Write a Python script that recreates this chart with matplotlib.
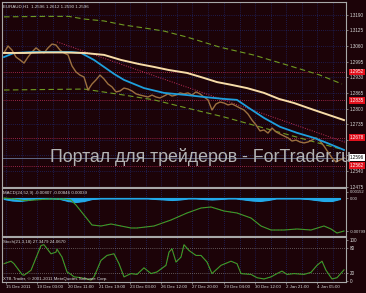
import numpy as np
import matplotlib.pyplot as plt
import matplotlib as mpl
from matplotlib import transforms

# ========================= Style ========================= #
mpl.rcParams.update({
    'font.family': ['Liberation Sans', 'DejaVu Sans'],
    'axes.linewidth': 0.8,
})

fond = '#1c0308'          # fond bordeaux tres sombre
cadre = '#a8a8a8'
texte = '#d8d8d8'
grille = '#22348a'

# ========================= Donnees ========================= #

# Cours EURAUD H1 (cloture, un point toutes les 4 barres environ)
x_prix = list(range(0, 344, 4))
prix = [1.3031, 1.3060, 1.3043, 1.3014, 1.3002, 1.2989, 1.3014, 1.3035, 1.3052, 1.3039,
        1.3031, 1.3052, 1.3068, 1.3064, 1.3043, 1.3031, 1.3023, 1.2977, 1.2952, 1.2939,
        1.2931, 1.2877, 1.2902, 1.2919, 1.2939, 1.2923, 1.2902, 1.2890, 1.2869, 1.2873,
        1.2885, 1.2881, 1.2873, 1.2861, 1.2856, 1.2852, 1.2848, 1.2856, 1.2848, 1.2844,
        1.2852, 1.2861, 1.2852, 1.2856, 1.2865, 1.2861, 1.2865, 1.2856, 1.2869, 1.2861,
        1.2848, 1.2836, 1.2794, 1.2819, 1.2827, 1.2823, 1.2815, 1.2819, 1.2811, 1.2802,
        1.2794, 1.2777, 1.2752, 1.2732, 1.2707, 1.2711, 1.2698, 1.2719, 1.2703, 1.2694,
        1.2686, 1.2678, 1.2665, 1.2669, 1.2661, 1.2657, 1.2661, 1.2669, 1.2678, 1.2665,
        1.2644, 1.2619, 1.2595, 1.2578, 1.2586, 1.2595]

# Moyenne mobile lente (creme)
x_ma_lente = [0, 20, 40, 60, 80, 100, 117, 135, 150, 165, 183, 200, 213, 228, 243, 260, 275, 290, 310, 325, 340]
ma_lente = [1.3031, 1.3031, 1.3033, 1.3033, 1.3031, 1.3023, 1.3002, 1.2985, 1.2973, 1.2960, 1.2948,
            1.2927, 1.2910, 1.2898, 1.2885, 1.2865, 1.2840, 1.2823, 1.2794, 1.2773, 1.2752]

# Moyenne mobile rapide (bleue)
x_ma_rapide = [0, 10, 30, 50, 67, 77, 90, 100, 110, 120, 140, 160, 183, 200, 220, 233, 245, 260, 276, 293, 310, 323, 340]
ma_rapide = [1.3014, 1.3031, 1.3035, 1.3035, 1.3035, 1.3031, 1.3002, 1.2973, 1.2944, 1.2919, 1.2885, 1.2865,
             1.2856, 1.2848, 1.2840, 1.2836, 1.2802, 1.2761, 1.2724, 1.2699, 1.2678, 1.2657, 1.2628]

# Canal (tirets verts)
x_canal_haut = [0, 40, 65, 80, 100, 120, 140, 160, 183, 216, 250, 283, 316, 338]
canal_haut = [1.3181, 1.3183, 1.3183, 1.3172, 1.3164, 1.3147, 1.3135, 1.3122, 1.3097, 1.3055, 1.3022, 1.2981, 1.2939, 1.2902]
x_canal_bas = [0, 80, 120, 150, 183, 220, 260, 300, 340]
canal_bas = [1.2877, 1.2881, 1.2856, 1.2836, 1.2802, 1.2765, 1.2719, 1.2673, 1.2628]

# Ligne de tendance (pointilles roses)
x_tendance = [53, 343]
tendance = [1.3077, 1.2657]

# Niveaux horizontaux + dernier cours
niveaux = [1.2952, 1.2835, 1.2678, 1.2562]
dernier = 1.2596

# Echelle de prix (les etiquettes cachees par les boites restent vides)
ticks_prix = [1.3190, 1.3125, 1.3060, 1.2995, 1.2930, 1.2865, 1.2800, 1.2735, 1.2670, 1.2605, 1.2540, 1.2475]
labels_prix = ['1.3190', '1.3125', '1.3060', '1.2995', '1.2930', '1.2865', '1.2800', '1.2735', '', '', '1.2540', '1.2475']

# MACD
x_macd = [0, 10, 20, 30, 45, 60, 67, 72, 80, 88, 97, 107, 117, 127, 133, 150, 167, 183, 197, 207,
          220, 233, 247, 257, 267, 280, 293, 307, 320, 327, 333, 340]
macd = [0.0, -0.00024, -0.0006, -0.00048, -0.00024, -0.00024, -0.00048, -0.00168, -0.00408, -0.00648,
        -0.00672, -0.00624, -0.00672, -0.0072, -0.0072, -0.00672, -0.00528, -0.0036, -0.0024, -0.00216,
        -0.00312, -0.0036, -0.0048, -0.00672, -0.00768, -0.00768, -0.00744, -0.00768, -0.00672, -0.00744,
        -0.0084, -0.00792]
x_histo = list(range(0, 344, 8))
histo = [-0.00024, -0.0006, -0.00072, -0.00048, -0.00012, -0.00012, -0.00012, -0.00024, -0.00072, -0.00096,
         -0.00072, -0.00024, -0.00012, -0.00012, -0.00012, -0.00012, -0.00012, -0.00012, -0.00012, -0.00024,
         -0.00036, -0.00048, -0.00036, -0.00012, -0.00012, -0.00024, -0.00036, -0.00024, -0.00012, -0.00012,
         -0.00036, -0.0006, -0.00072, -0.00048, -0.00012, -0.00012, -0.00012, -0.00012, -0.00024, -0.00048,
         -0.00072, -0.00072, -0.00024]

# Stochastique
x_stoch = [0, 7, 10, 18, 20, 27, 33, 37, 40, 47, 52, 53, 58, 63, 67, 70, 77, 87, 90, 97, 103, 110, 115,
           120, 127, 133, 140, 147, 153, 162, 165, 168, 172, 177, 180, 185, 192, 197, 203, 208, 217, 227,
           233, 237, 247, 253, 260, 267, 273, 278, 283, 290, 300, 307, 313, 318, 322, 328, 333, 340]
stoch = [42, 48, 42, 16, 14, 26, 62, 86, 88, 66, 70, 77, 58, 22, 16, 10, 8, 2.4, 10, 50, 62, 66, 42,
         10, 18, 16, 32, 18, 22, 38, 70, 78, 46, 58, 88, 74, 62, 62, 46, 18, 38, 48,
         42, 18, 16, 8, 5, 10, 18, 24, 16, 18, 16, 21, 38, 48, 26, 5, 8, 27]

# Axe du temps
ticks_temps = [2, 33, 64, 95, 126, 157, 188, 220, 251, 282, 313]
labels_temps = ['15 Dec 2011', '19 Dec 03:00', '20 Dec 11:00', '21 Dec 19:00', '23 Dec 03:00',
                '26 Dec 12:00', '27 Dec 20:00', '29 Dec 04:00', '30 Dec 12:00', '2 Jan 21:00', '4 Jan 05:00']
grille_x = [2, 17.5, 33, 48.5, 64, 79.5, 95, 110.5, 126, 141.5, 157, 172.5, 188, 204, 220, 235.5,
            251, 266.5, 282, 297.5, 313, 328.5]

# ========================= Figure ========================= #
W, H = 366, 293
fig = plt.figure(figsize=(W / 100, H / 100), dpi=100, facecolor=fond)

def panneau(y_haut, y_bas):
    ax = fig.add_axes([2 / W, (H - y_bas) / H, 344 / W, (y_bas - y_haut) / H])
    ax.set_facecolor(fond)
    for s in ax.spines.values():
        s.set_color(cadre)
    ax.set_xlim(-2, 342)
    ax.yaxis.tick_right()
    ax.tick_params(axis='y', labelsize=3.3, labelcolor=texte, color=cadre, length=1.5, pad=1, width=0.5)
    ax.tick_params(axis='x', bottom=False, labelbottom=False)
    for gx in grille_x:
        ax.axvline(gx, color=grille, lw=0.5, linestyle=(0, (1, 2)), zorder=0)
    return ax

ax1 = panneau(2, 187)
ax2 = panneau(188, 235.5)
ax3 = panneau(237, 282)

# --- Panneau principal ---
ax1.set_ylim(1.24739, 1.32428)
ax1.set_yticks(ticks_prix)
ax1.set_yticklabels(labels_prix)
for t in ticks_prix:
    ax1.axhline(t, color=grille, lw=0.5, linestyle=(0, (1, 2)), zorder=0)

for n in niveaux:
    ax1.axhline(n, color='#c0305a', lw=0.6, linestyle=(0, (1, 1.5)), zorder=1)
ax1.axhline(dernier, color='#6a7898', lw=0.6, zorder=1)

ax1.plot(x_tendance, tendance, color='#c0305a', lw=0.7, linestyle=(0, (1, 1.5)), zorder=2)
ax1.plot(x_canal_haut, canal_haut, color='#6f9a22', lw=0.8, linestyle=(0, (5, 3)), zorder=2)
ax1.plot(x_canal_bas, canal_bas, color='#6f9a22', lw=0.8, linestyle=(0, (5, 3)), zorder=2)
ax1.plot(x_prix, prix, color='#9c7040', lw=1.0, zorder=3)
ax1.plot(x_ma_rapide, ma_rapide, color='#1e9fdc', lw=1.3, zorder=4)
ax1.plot(x_ma_lente, ma_lente, color='#f7dca8', lw=1.4, zorder=4)

trans = transforms.blended_transform_factory(ax1.transAxes, ax1.transData)
for n in niveaux:
    ax1.text(1.012, n, f'{n:.4f}', transform=trans, fontsize=3.3, color='white', va='center', ha='left',
             bbox=dict(boxstyle='square,pad=0.2', fc='#e2101c', ec='none'), clip_on=False, zorder=10)
ax1.text(1.012, dernier, f'{dernier:.4f}', transform=trans, fontsize=3.3, color='black', va='center', ha='left',
         bbox=dict(boxstyle='square,pad=0.2', fc='white', ec='none'), clip_on=False, zorder=10)

ax1.text(0.004, 0.985, 'EURAUD,H1  1.2596 1.2612 1.2590 1.2596', transform=ax1.transAxes,
         fontsize=3.2, color=texte, va='top', ha='left')

# Filigrane
fig.text(50 / W, 1 - 157.5 / H, 'Портал для трейдеров - ForTrader.ru', fontsize=12.8,
         color='#b4b4b4', va='center', ha='left', zorder=20)

# --- MACD ---
ax2.set_ylim(-0.00900, 0.00240)
ax2.set_yticks([0.00152, 0.0, -0.00799])
ax2.set_yticklabels(['0.00152', '0.00', '-0.00799'])
ax2.tick_params(axis='y', labelsize=3.0)
ax2.fill_between(x_histo, 0, histo, color='#22a8e8', lw=0.8, zorder=2)
ax2.plot(x_histo, histo, color='#22a8e8', lw=0.8, zorder=2)
ax2.plot(x_macd, macd, color='#2ea82e', lw=0.8, zorder=3)
ax2.plot(x_macd, macd, color='#d02020', lw=0.5, linestyle=(0, (1, 4)), zorder=4)
ax2.text(0.004, 0.93, 'MACD(24,52,9) -0.00807 -0.00846 0.00039', transform=ax2.transAxes,
         fontsize=3.2, color=texte, va='top', ha='left', zorder=5)

# --- Stochastique ---
ax3.set_ylim(-2.4, 106.7)
ax3.set_yticks([100, 80, 20, 0])
ax3.set_yticklabels(['100', '80', '20', '0'])
for lv in [80, 20]:
    ax3.axhline(lv, color='#a0a0a0', lw=0.5, linestyle=(0, (1, 2)), zorder=1)
ax3.plot(x_stoch, stoch, color='#2ea82e', lw=0.8, zorder=3)
ax3.plot(x_stoch, stoch, color='#d02020', lw=0.5, linestyle=(0, (1, 4)), zorder=4)
ax3.text(0.004, 0.93, 'Stoch(21,3,18) 27.3479 24.0670', transform=ax3.transAxes,
         fontsize=3.2, color=texte, va='top', ha='left')
ax3.text(0.004, 0.03, 'XTB-Trader, © 2001-2011 MetaQuotes Software Corp.', transform=ax3.transAxes,
         fontsize=3.2, color=texte, va='bottom', ha='left')

ax3.set_xticks(ticks_temps)
ax3.set_xticklabels(labels_temps)
ax3.tick_params(axis='x', bottom=True, labelbottom=True, labelsize=3.2, labelcolor=texte,
                color=cadre, length=1.5, pad=0.8, width=0.5)
for lab in ax3.get_xticklabels():
    lab.set_ha('left')

fig.savefig('out.png', dpi=100, facecolor=fond)
